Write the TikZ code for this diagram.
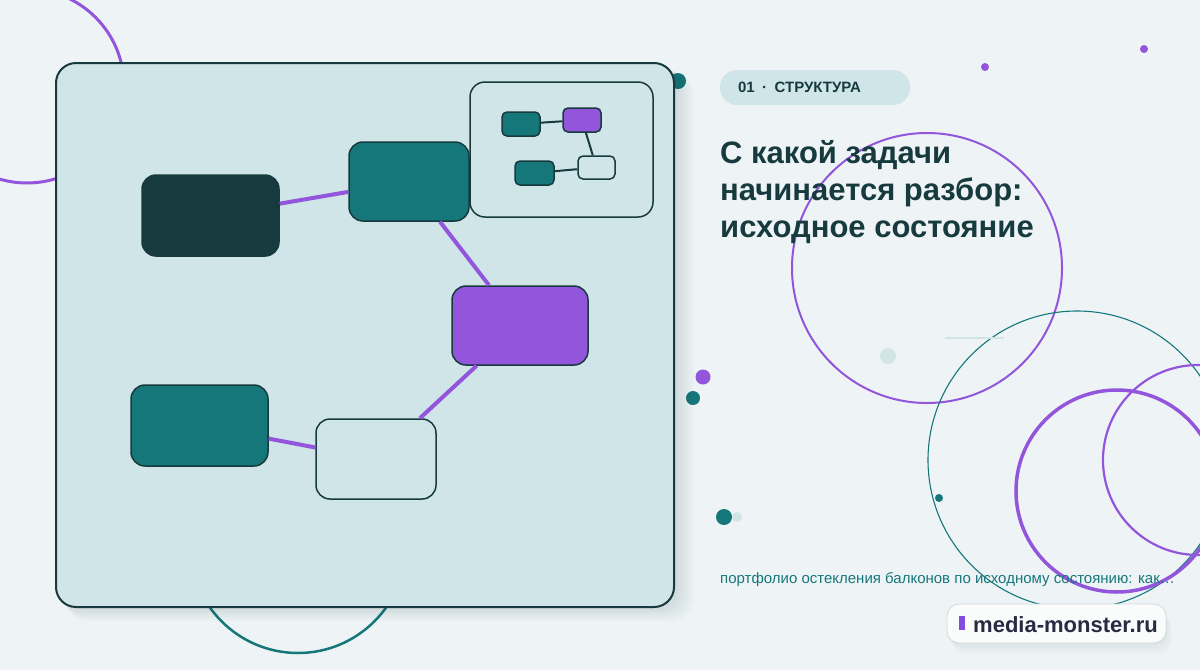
\documentclass[tikz,border=0pt]{standalone}
\usepackage{fontspec}
\setmainfont{Liberation Sans}
\usetikzlibrary{positioning}

\definecolor{paper}{HTML}{EEF4F6}
\definecolor{panel}{HTML}{CFE5E7}
\definecolor{ink}{HTML}{173A3E}
\definecolor{teal}{HTML}{16777B}
\definecolor{violet}{HTML}{9255DB}
\definecolor{mist}{HTML}{D2E5E6}
\definecolor{brandink}{HTML}{2B2A42}

\tikzset{
  block/.style={rectangle,rounded corners=14pt,draw=ink,line width=1.5pt,inner sep=0pt},
  mini/.style={rectangle,rounded corners=5pt,draw=ink,line width=1.5pt,inner sep=0pt,minimum width=38pt,minimum height=24pt},
  flow/.style={draw=violet,line width=4pt},
  miniflow/.style={draw=ink,line width=2pt},
  ring/.style={draw=#1,fill=none},
  pill/.style={rectangle,rounded corners=17pt,fill=panel,inner xsep=18pt,inner ysep=0pt,minimum height=35pt,text width=154pt,align=left}
}

\begin{document}
\begin{tikzpicture}[x=1pt,y=-1pt,node distance=2cm,on grid]
   \fill[paper] (0,0) rectangle (1200,670);
   \useasboundingbox (0,0) rectangle (1200,670);
   \draw[ring=violet,line width=3pt] (27,86) circle (97);
   \draw[ring=teal,line width=2.5pt] (298,545) circle (108);
   \draw[ring=violet,line width=2pt] (927,268) circle (135);
   \draw[ring=teal,line width=1.1pt] (1077,460) circle (149);
   \draw[ring=violet,line width=3.5pt] (1117,491) circle (101);
   \draw[ring=violet,line width=2.2pt] (1198,460) circle (95);
   \draw[mist,line width=1.5pt] (945,338) -- (1004,338);
   \fill[teal] (678,81) circle (8);
   \fill[violet] (985,67) circle (4);
   \fill[violet] (1144,49) circle (4);
   \fill[mist] (888,356) circle (8);
   \fill[teal] (939,498) circle (4);
   \fill[violet] (703,377) circle (7.5);
   \fill[teal] (693,398) circle (7);
   \fill[mist] (737,517) circle (5);
   \fill[teal] (724,517) circle (8);
   \foreach \s in {2,5,8,11,14,17,20}
      \fill[ink,opacity=0.018,rounded corners=22pt] (56+\s/2,63+\s/2) rectangle (674+\s,607+\s*0.7);
   \draw[ink,fill=panel,line width=2pt,rounded corners=20pt] (56,63) rectangle (674,607);

   \node[block,fill=ink,minimum width=137pt,minimum height=81pt] (A) at (210.5,215.5) {};
   \node[block,fill=teal,minimum width=120pt,minimum height=79pt] (B) [above right=34pt and 198.5pt of A] {};
   \node[block,fill=violet,minimum width=136pt,minimum height=79pt] (C) [below right=144pt and 111pt of B] {};
   \node[block,fill=panel,minimum width=120pt,minimum height=80pt] (E) [below left=133.5pt and 144pt of C] {};
   \node[block,fill=teal,minimum width=137pt,minimum height=81pt] (D) [above left=33.5pt and 176.5pt of E] {};
   \path[flow] (A) edge (B) (B) edge (C) (C) edge (E) (E) edge (D);

   \node[block,fill=panel,rounded corners=15pt,minimum width=183pt,minimum height=135pt] (inset) at (561.5,149.5) {};
   \node[mini,fill=teal] (a) at (521,124) {};
   \node[mini,fill=violet] (b) [above right=4pt and 61pt of a] {};
   \node[mini,fill=panel,minimum width=37pt,minimum height=23pt] (d) [below right=47.5pt and 14.5pt of b] {};
   \node[mini,fill=teal,minimum width=39pt] (c) [below left=5.5pt and 62pt of d] {};
   \path[miniflow] (a) edge (b) (b) edge (d) (c) edge (d);

   \node[pill,font=\bfseries\fontsize{15}{17}\selectfont,text=ink] (tag) at (815,87.5) {01\enspace·\enspace СТРУКТУРА};
   \node[anchor=north west,align=left,inner sep=0pt,text=ink,font=\bfseries\fontsize{31}{37}\selectfont] (title) at (720,140)
      {С какой задачи\\начинается разбор:\\исходное состояние};
   \node[anchor=base west,inner sep=0pt,text=teal,font=\fontsize{15}{17}\selectfont] (lead) at (720,583)
      {портфолио остекления балконов по исходному состоянию: как…};

   \foreach \s in {2,5,8,11}
      \fill[ink,opacity=0.02,rounded corners=14pt] (947+\s/2,604+\s) rectangle (1166+\s/2,643+\s);
   \node[rectangle,rounded corners=12pt,fill=white!70!paper,draw=ink!20,line width=0.8pt,minimum width=219pt,minimum height=39pt] (brand) at (1056.5,623.5) {};
   \fill[violet!90!blue] (959,616) rectangle (965,630);
   \node[anchor=base west,inner sep=0pt,text=brandink,font=\bfseries\fontsize{22}{24}\selectfont] (site) at (973,632) {media-monster.ru};
\end{tikzpicture}
\end{document}
